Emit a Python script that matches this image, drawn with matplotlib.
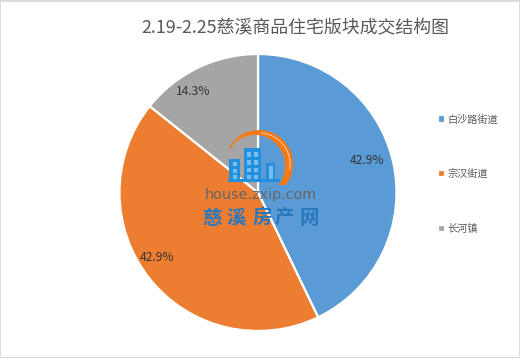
import numpy as np
import matplotlib
matplotlib.use("Agg")
import matplotlib.pyplot as plt
from matplotlib.patches import Rectangle, Polygon

plt.rcParams['font.family'] = ['Noto Sans CJK SC', 'DejaVu Sans']

categories = ['白沙路街道', '宗汉街道', '长河镇']
values = [3, 3, 1]
colors = ['#5B9BD5', '#ED7D31', '#A5A5A5']
title = '2.19-2.25慈溪商品住宅版块成交结构图'

W, H = 520, 358
fig = plt.figure(figsize=(W / 100, H / 100), dpi=100, facecolor='white')

# Pie, placed by pixel box
cx, cy, r = 258, 192.5, 138.5
ax = fig.add_axes([(cx - r) / W, 1 - (cy + r) / H, 2 * r / W, 2 * r / H])
wedges, _, pcts = ax.pie(values, colors=colors, startangle=90, counterclock=False,
                         radius=1, autopct='%.1f%%', pctdistance=0.85,
                         wedgeprops={'edgecolor': 'white', 'linewidth': 1.6},
                         textprops={'fontsize': 8.7, 'color': '#333333'})
ax.set_xlim(-1, 1)
ax.set_ylim(-1, 1)

# Excel puts the labels a bit off the mid angle
label_pos = [(0.79, 0.23), (-0.73, -0.47), (-0.47, 0.73)]
for t, p in zip(pcts, label_pos):
    t.set_position(p)

fig.text(295 / W, 1 - 28 / H, title, ha='center', va='center', fontsize=12.9, color='#595959')

fig.legend(wedges, categories, loc='center left', bbox_to_anchor=(437.5 / W, 1 - 174 / H),
           frameon=False, fontsize=7.3, labelcolor='#595959', labelspacing=4.4,
           handlelength=0.75, handleheight=0.75, handletextpad=0.2, borderpad=0, borderaxespad=0)

# Overlay in pixel coords: frame and watermark
ov = fig.add_axes([0, 0, 1, 1], zorder=5)
ov.set_xlim(0, W)
ov.set_ylim(H, 0)
ov.axis('off')

for box in [(0, 0, W, 1.5), (0, H - 1.5, W, 1.5), (0, 0, 1.2, H), (W - 1.5, 0, 1.5, H)]:
    ov.add_patch(Rectangle(box[:2], box[2], box[3], color='#DDDDDD', lw=0))

# Watermark logo
blue = '#2390DF'
ang = np.radians(np.linspace(-38, 150, 60))
outer = np.c_[259 + 34 * np.cos(ang), 164 - 34 * np.sin(ang)]
inner = np.c_[255 + 30 * np.cos(ang[::-1]), 166 - 31 * np.sin(ang[::-1])]
ov.add_patch(Polygon(np.r_[outer, inner], color='#F57A14', lw=0))
ang2 = np.radians(np.linspace(-10, 85, 30))
ov.plot(259 + 31 * np.cos(ang2), 164 - 31 * np.sin(ang2), color='white', lw=0.7, alpha=0.6)

ov.add_patch(Rectangle((228, 179), 52, 3.2, color=blue, lw=0))
for bx, by, bw, bh in [(229, 159, 11, 20), (244, 148, 17, 31), (266, 163, 9, 16)]:
    ov.add_patch(Rectangle((bx, by), bw, bh, color=blue, lw=0))
for wx, wy, ww, wh in [(232.5, 162, 4, 4), (232.5, 168.5, 4, 4), (232.5, 175, 4, 3.5),
                       (247, 152, 4, 5), (254, 152, 4, 5), (247, 160, 4, 4.5), (254, 160, 4, 4.5),
                       (247, 167.5, 4, 4.5), (254, 167.5, 4, 4.5), (247, 175, 4, 4), (254, 175, 4, 4),
                       (268.5, 166, 4, 13)]:
    ov.add_patch(Rectangle((wx, wy), ww, wh, color='white', alpha=0.4, lw=0))

ov.text(260.5, 195, 'house.zxip.com', ha='center', va='center', fontsize=10.4,
        color='#666666', family='DejaVu Sans')
for ch, x in zip('慈溪房产网', [212, 236, 262, 284, 309]):
    ov.text(x, 218, ch, ha='center', va='center', fontsize=14, color='#2A78BC',
            fontweight='bold')

fig.savefig('out.png', dpi=100)
